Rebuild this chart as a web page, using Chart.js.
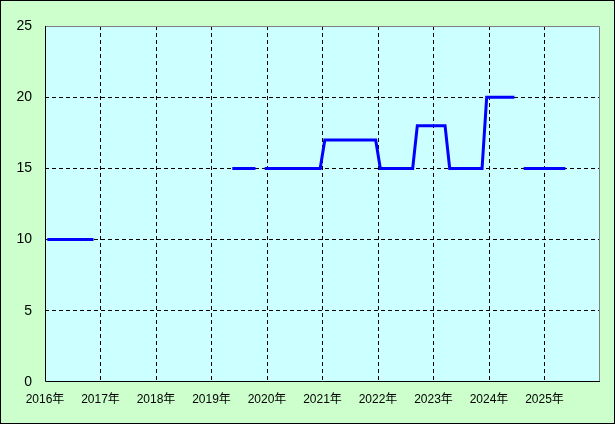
<!DOCTYPE html>
<html>
<head>
<meta charset="utf-8">
<script src="https://cdn.jsdelivr.net/npm/chart.js@4/dist/chart.umd.min.js"></script>
<style>
  body { margin: 0; background: #ffffff; }
  #wrap { width: 615px; height: 424px; }
</style>
</head>
<body>
<div id="wrap"><canvas id="canvas" width="615" height="424"></canvas></div>
<script>
/* data */
const years = ['2016年', '2017年', '2018年', '2019年', '2020年', '2021年', '2022年', '2023年', '2024年', '2025年'];
const yTicks = [0, 5, 10, 15, 20, 25];

// one value per month, null = no data
const v2016 = [10, 10, 10, 10, 10, 10, 10, 10, 10, 10, 10, null];
const v2017 = [null, null, null, null, null, null, null, null, null, null, null, null];
const v2018 = [null, null, null, null, null, null, null, null, null, null, null, null];
const v2019 = [null, null, null, null, 15, 15, 15, 15, 15, 15, null, 15];
const v2020 = [15, 15, 15, 15, 15, 15, 15, 15, 15, 15, 15, 15];
const v2021 = [17, 17, 17, 17, 17, 17, 17, 17, 17, 17, 17, 17];
const v2022 = [15, 15, 15, 15, 15, 15, 15, 15, 18, 18, 18, 18];
const v2023 = [18, 18, 18, 15, 15, 15, 15, 15, 15, 15, 15, 20];
const v2024 = [20, 20, 20, 20, 20, 20, null, 15, 15, 15, 15, 15];
const v2025 = [15, 15, 15, 15, 15, null, null, null, null, null, null, null];

const values = [].concat(v2016, v2017, v2018, v2019, v2020, v2021, v2022, v2023, v2024, v2025);

// month i sits in the middle of its slot
const points = values.map(function(v, i){
    return { x: i + 0.5, y: v };
});

/* backgrounds and frame */
const frame = {
    id: 'frame',
    beforeDraw(chart){
        const c = chart.ctx;
        const a = chart.chartArea;
        c.save();
        c.fillStyle = '#ccffcc';
        c.fillRect(0, 0, chart.width, chart.height);
        c.fillStyle = '#ccffff';
        c.fillRect(a.left, a.top, a.right - a.left, a.bottom - a.top);
        c.restore();
    },
    afterDraw(chart){
        const c = chart.ctx;
        const a = chart.chartArea;
        c.save();
        c.lineWidth = 1;
        c.strokeStyle = '#808080';
        c.beginPath();
        c.moveTo(a.left, a.top + 0.5);
        c.lineTo(a.right - 0.5, a.top + 0.5);
        c.lineTo(a.right - 0.5, a.bottom);
        c.stroke();
        c.strokeStyle = '#000000';
        c.beginPath();
        c.moveTo(a.left + 0.5, a.top);
        c.lineTo(a.left + 0.5, a.bottom - 0.5);
        c.lineTo(a.right, a.bottom - 0.5);
        c.stroke();
        c.strokeRect(0.5, 0.5, chart.width - 1, chart.height - 1);
        c.restore();
    }
};

const ctx = document.getElementById('canvas');
new Chart(ctx, {
    type: 'line',
    data: {
        datasets: [{
            data: points,
            borderColor: '#0000ff',
            borderWidth: 3,
            pointRadius: 0,
            tension: 0,
            spanGaps: false
        }]
    },
    options: {
        responsive: false,
        animation: false,
        layout: { padding: { top: 26, right: 15, left: 0, bottom: 0 } },
        plugins: {
            legend: { display: false },
            tooltip: { enabled: false }
        },
        scales: {
            x: {
                type: 'linear',
                min: 0,
                max: years.length * 12,
                afterBuildTicks: function(axis){
                    axis.ticks = years.map(function(y, i){ return { value: i * 12 }; });
                    axis.ticks.push({ value: years.length * 12 });
                },
                afterFit: function(axis){ axis.height = 42; },
                grid: {
                    drawTicks: false,
                    color: function(c){
                        const v = c.tick ? c.tick.value : 0;
                        return (v <= 0 || v >= years.length * 12) ? 'rgba(0,0,0,0)' : '#000000';
                    }
                },
                border: { display: false, dash: [4, 3] },
                ticks: {
                    padding: 10,
                    maxRotation: 0,
                    autoSkip: false,
                    color: '#000000',
                    font: { family: '"Liberation Sans", "Noto Sans CJK JP"', size: 12 },
                    callback: function(value){
                        const i = Math.round(value / 12);
                        return i < years.length ? years[i] : '';
                    }
                }
            },
            y: {
                min: yTicks[0],
                max: yTicks[yTicks.length - 1],
                afterBuildTicks: function(axis){
                    axis.ticks = yTicks.map(function(v){ return { value: v }; });
                },
                afterFit: function(axis){ axis.width = 45; },
                grid: {
                    drawTicks: false,
                    color: function(c){
                        const v = c.tick ? c.tick.value : 0;
                        return (v <= yTicks[0] || v >= yTicks[yTicks.length - 1]) ? 'rgba(0,0,0,0)' : '#000000';
                    }
                },
                border: { display: false, dash: [4, 3] },
                ticks: {
                    padding: 13,
                    color: '#000000',
                    font: { family: '"Liberation Sans"', size: 14 }
                }
            }
        }
    },
    plugins: [frame]
});
</script>
</body>
</html>
